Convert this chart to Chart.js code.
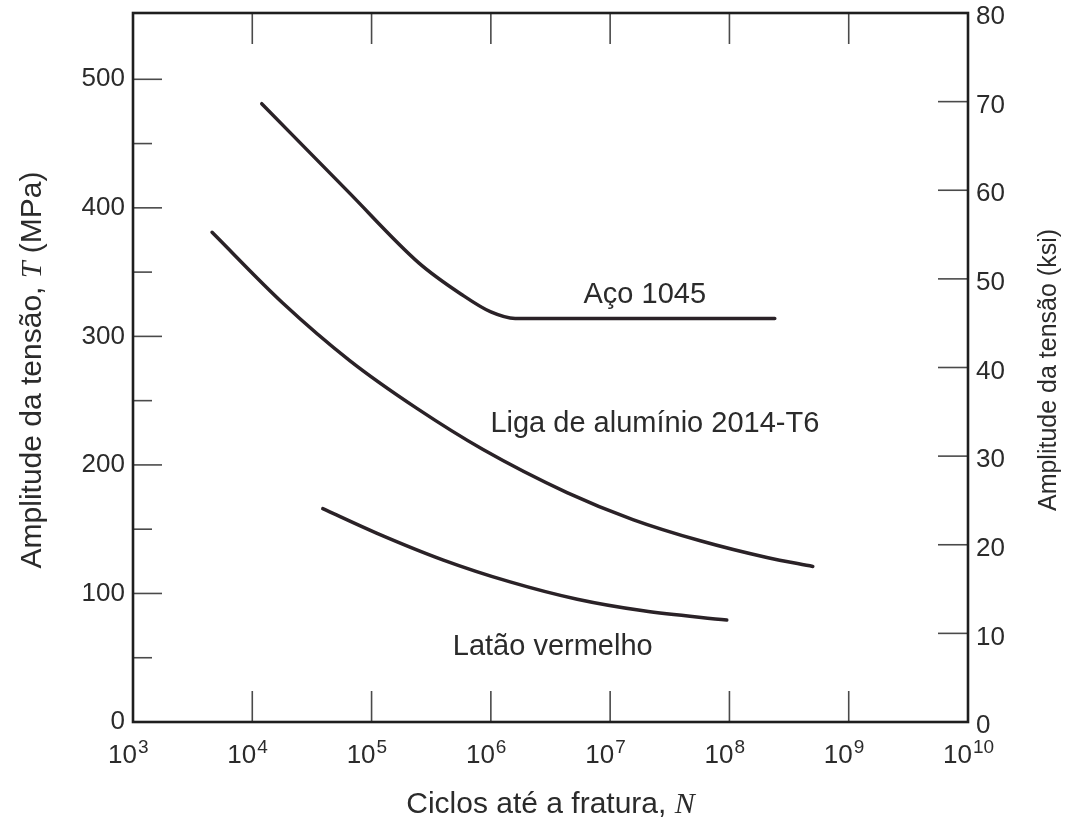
<!DOCTYPE html>
<html>
<head>
<meta charset="utf-8">
<script src="https://cdn.jsdelivr.net/npm/chart.js@4.4.1/dist/chart.umd.min.js"></script>
<style>
  html, body { margin: 0; padding: 0; background: #fff; }
</style>
</head>
<body>
<canvas id="myChart" width="1071" height="824"></canvas>
<script>
// curvas S-N: ciclos ate a fratura (N) x amplitude da tensao (MPa)
var acoN     = [1.2e4, 6.3e4, 2.5e5, 5.6e5, 1.0e6, 1.6e6, 2.4e8];
var acoMPa   = [481, 413, 357, 333, 319, 314, 314];

var aluminioN   = [4.6e3, 1.8e4, 6.6e4, 2.4e5, 8.6e5, 4.35e6, 1.55e7, 5.7e7, 2.06e8, 5.0e8];
var aluminioMPa = [381, 326, 281, 244, 212, 178.5, 157.5, 141, 128, 121];

var lataoN   = [3.9e4, 1.1e5, 4.0e5, 1.45e6, 5.3e6, 1.9e7, 9.5e7];
var lataoMPa = [166, 147, 126, 109, 95.5, 86.5, 79.3];

// eixos
var expoentesX   = [3, 4, 5, 6, 7, 8, 9, 10];
var rotulosMPa   = [0, 100, 200, 300, 400, 500];
var marcasMPa    = [50, 100, 150, 200, 250, 300, 350, 400, 450, 500];
var rotulosKsi   = [0, 10, 20, 30, 40, 50, 60, 70, 80];
var MPA_POR_KSI  = 6.89476;

// nomes das curvas e onde ficam escritos (N, MPa)
var nomes = [
  { texto: 'Aço 1045', n: 1.95e7, mpa: 332 },
  { texto: 'Liga de alumínio 2014-T6', n: 2.37e7, mpa: 232 },
  { texto: 'Latão vermelho', n: 3.3e6, mpa: 58 }
];

var FONTE = '"Liberation Sans", Arial, Helvetica, sans-serif';
var SERIFA = '"Liberation Serif", "Times New Roman", serif';
var TINTA = '#2b2b2b';
var COR_CURVA = '#2a2227';

function pontos(ns, ys) {
  return ns.map(function (n, i) { return { x: n, y: ys[i] }; });
}

function curva(ns, ys) {
  return {
    data: pontos(ns, ys),
    borderColor: COR_CURVA,
    borderWidth: 3.5,
    borderCapStyle: 'round',
    pointRadius: 0,
    fill: false,
    cubicInterpolationMode: 'monotone'
  };
}

function linha(ctx, x1, y1, x2, y2) {
  ctx.beginPath();
  ctx.moveTo(x1, y1);
  ctx.lineTo(x2, y2);
  ctx.stroke();
}

// moldura, marcas internas, rotulos 10^n, titulos e nomes das curvas
var moldura = {
  id: 'moldura',
  afterDraw: function (chart) {
    var ctx = chart.ctx, a = chart.chartArea;
    var sx = chart.scales.x, sy = chart.scales.y, sy2 = chart.scales.y2;
    ctx.save();

    ctx.strokeStyle = '#4a4a4a';
    ctx.lineWidth = 1.6;
    expoentesX.slice(1, -1).forEach(function (e) {
      var px = sx.getPixelForValue(Math.pow(10, e));
      linha(ctx, px, a.bottom, px, a.bottom - 31);
      linha(ctx, px, a.top, px, a.top + 31);
    });
    marcasMPa.forEach(function (v) {
      var py = sy.getPixelForValue(v);
      linha(ctx, a.left, py, a.left + (v % 100 === 0 ? 29 : 19), py);
    });
    rotulosKsi.slice(1, -1).forEach(function (v) {
      var py = sy2.getPixelForValue(v);
      linha(ctx, a.right, py, a.right - 30, py);
    });

    ctx.strokeStyle = '#1e1e1e';
    ctx.lineWidth = 2.6;
    ctx.strokeRect(a.left, a.top, a.right - a.left, a.bottom - a.top);

    // rotulos do eixo x: 10 com expoente
    ctx.fillStyle = TINTA;
    ctx.textBaseline = 'alphabetic';
    expoentesX.forEach(function (e) {
      var px = sx.getPixelForValue(Math.pow(10, e));
      ctx.font = '26px ' + FONTE;
      var wBase = ctx.measureText('10').width;
      var x0 = px + 4 - wBase;
      ctx.textAlign = 'left';
      ctx.fillText('10', x0, 763);
      ctx.font = '19px ' + FONTE;
      ctx.fillText(String(e), x0 + wBase + 1, 753);
    });

    // titulo do eixo x
    var t1 = 'Ciclos até a fratura, ';
    ctx.font = '30px ' + FONTE;
    var w1 = ctx.measureText(t1).width;
    ctx.font = 'italic 30px ' + SERIFA;
    var w2 = ctx.measureText('N').width;
    var xt = (a.left + a.right) / 2 - (w1 + w2) / 2;
    ctx.font = '30px ' + FONTE;
    ctx.fillText(t1, xt, 813);
    ctx.font = 'italic 30px ' + SERIFA;
    ctx.fillText('N', xt + w1, 813);

    // titulo do eixo esquerdo
    ctx.save();
    ctx.translate(41, 370);
    ctx.rotate(-Math.PI / 2);
    var partes = [
      ['Amplitude da tensão, ', '30px ' + FONTE],
      ['T', 'italic 30px ' + SERIFA],
      [' (MPa)', '30px ' + FONTE]
    ];
    var total = 0;
    partes.forEach(function (p) { ctx.font = p[1]; total += ctx.measureText(p[0]).width; });
    var cx = -total / 2;
    partes.forEach(function (p) {
      ctx.font = p[1];
      ctx.fillText(p[0], cx, 0);
      cx += ctx.measureText(p[0]).width;
    });
    ctx.restore();

    // titulo do eixo direito
    ctx.save();
    ctx.translate(1056, 370);
    ctx.rotate(-Math.PI / 2);
    ctx.font = '25px ' + FONTE;
    ctx.textAlign = 'center';
    ctx.fillText('Amplitude da tensão (ksi)', 0, 0);
    ctx.restore();

    // nomes das curvas
    ctx.font = '29px ' + FONTE;
    ctx.textAlign = 'center';
    ctx.textBaseline = 'middle';
    nomes.forEach(function (c) {
      ctx.fillText(c.texto, sx.getPixelForValue(c.n), sy.getPixelForValue(c.mpa));
    });

    ctx.restore();
  }
};

// sem folga extra acima/abaixo dos eixos verticais
function semFolga(s) {
  s.paddingTop = 0;
  s.paddingBottom = 0;
}

var ctx = document.getElementById('myChart').getContext('2d');
var chart = new Chart(ctx, {
  type: 'line',
  data: {
    datasets: [
      curva(acoN, acoMPa),
      curva(aluminioN, aluminioMPa),
      curva(lataoN, lataoMPa)
    ]
  },
  options: {
    responsive: false,
    animation: false,
    layout: { padding: { top: 13, left: 0, right: 0, bottom: 0 } },
    plugins: { legend: { display: false }, tooltip: { enabled: false } },
    scales: {
      x: {
        type: 'logarithmic',
        position: 'bottom',
        min: 1e3,
        max: 1e10,
        grid: { display: false, drawTicks: false },
        border: { display: false },
        ticks: { display: false },
        afterFit: function (s) { s.height = 102; }
      },
      y: {
        type: 'linear',
        position: 'left',
        min: 0,
        max: 80 * MPA_POR_KSI,
        grid: { display: false, drawTicks: false },
        border: { display: false },
        afterBuildTicks: function (s) { s.ticks = rotulosMPa.map(function (v) { return { value: v }; }); },
        ticks: { padding: 8, color: TINTA, font: { family: FONTE, size: 26 } },
        afterFit: function (s) { s.width = 133; semFolga(s); }
      },
      y2: {
        type: 'linear',
        position: 'right',
        min: 0,
        max: 80,
        grid: { display: false, drawTicks: false },
        border: { display: false },
        afterBuildTicks: function (s) { s.ticks = rotulosKsi.map(function (v) { return { value: v }; }); },
        ticks: { padding: 8, labelOffset: 4, color: TINTA, font: { family: FONTE, size: 26 } },
        afterFit: function (s) { s.width = 103; semFolga(s); }
      }
    }
  },
  plugins: [moldura]
});
</script>
</body>
</html>
